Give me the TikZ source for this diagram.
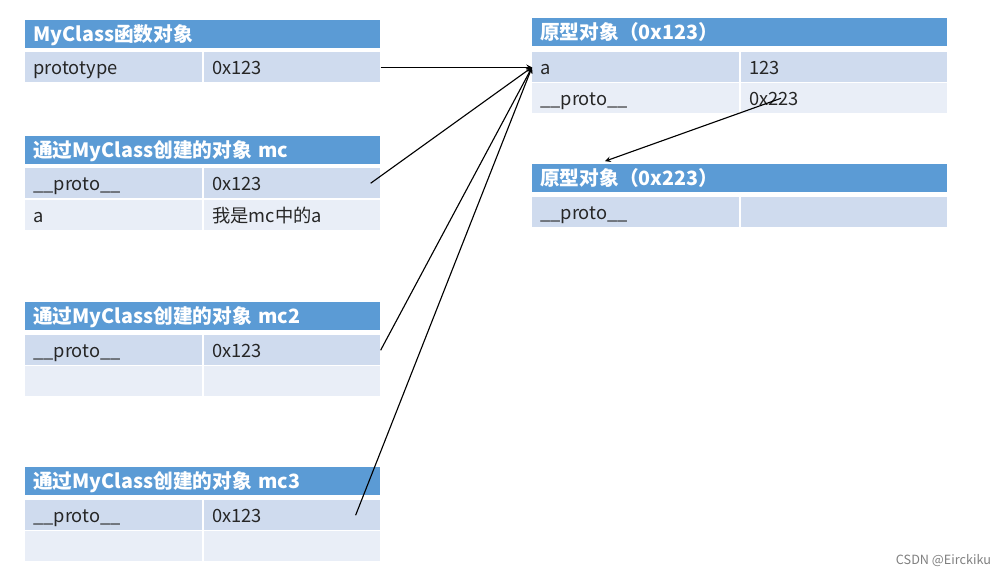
\documentclass[tikz,border=0pt]{standalone}
\usepackage{fontspec}
\setmainfont{Noto Sans CJK SC}
\usetikzlibrary{positioning}

\definecolor{hdrblue}{RGB}{91,155,213}
\definecolor{rowdark}{RGB}{207,219,238}
\definecolor{rowlight}{RGB}{233,238,247}

\tikzset{
    cell/.style={anchor=north west, inner xsep=0.2cm, inner ysep=0pt, align=left,
        text height=1.02em, text depth=0em,
        font=\fontsize{13}{15}\selectfont, text=black!85},
    hdr/.style={cell, fill=hdrblue, text=white, minimum height=0.7cm,
        font=\fontsize{14}{16}\selectfont\bfseries},
    dark/.style={cell, fill=rowdark, minimum height=0.75cm},
    light/.style={cell, fill=rowlight, minimum height=0.75cm},
    lhead/.style={text width=8.475cm},
    lkey/.style={text width=4.025cm},
    lval/.style={text width=4cm},
    rhead/.style={text width=9.975cm},
    rkey/.style={text width=4.775cm},
    rval/.style={text width=4.75cm},
    link/.style={->, line width=0.8pt, black},
}

\begin{document}
\begin{tikzpicture}[x=0.025cm, y=-0.025cm, >=stealth]
    \useasboundingbox[fill=white] (0,0) rectangle (1008,576);

    \node[hdr, lhead] (ctorHead) at (25,20) {MyClass函数对象};
    \node[dark, lkey] (ctorProtoKey) at (25,52) {prototype};
    \node[dark, lval] (ctorProtoVal) at (204,52) {0x123};

    \node[hdr, lhead] (mcHead) at (25,136) {通过MyClass创建的对象 mc};
    \node[dark, lkey] (mcProtoKey) at (25,168) {\_\_proto\_\_};
    \node[dark, lval] (mcProtoVal) at (204,168) {0x123};
    \node[light, lkey] (mcAKey) at (25,200) {a};
    \node[light, lval] (mcAVal) at (204,200) {我是mc中的a};

    \node[hdr, lhead] (mcTwoHead) at (25,302) {通过MyClass创建的对象 mc2};
    \node[dark, lkey] (mcTwoProtoKey) at (25,335) {\_\_proto\_\_};
    \node[dark, lval] (mcTwoProtoVal) at (204,335) {0x123};
    \node[light, lkey] (mcTwoEmptyKey) at (25,366) {};
    \node[light, lval] (mcTwoEmptyVal) at (204,366) {};

    \node[hdr, lhead] (mcThreeHead) at (25,467) {通过MyClass创建的对象 mc3};
    \node[dark, lkey] (mcThreeProtoKey) at (25,500) {\_\_proto\_\_};
    \node[dark, lval] (mcThreeProtoVal) at (204,500) {0x123};
    \node[light, lkey] (mcThreeEmptyKey) at (25,531) {};
    \node[light, lval] (mcThreeEmptyVal) at (204,531) {};

    \node[hdr, rhead] (protoOneHead) at (532,18) {原型对象（0x123）};
    \node[dark, rkey] (protoOneAKey) at (532,52) {a};
    \node[dark, rval] (protoOneAVal) at (741,52) {123};
    \node[light, rkey] (protoOneProtoKey) at (532,83) {\_\_proto\_\_};
    \node[light, rval] (protoOneProtoVal) at (741,83) {0x223};

    \node[hdr, rhead] (protoTwoHead) at (532,164) {原型对象（0x223）};
    \node[dark, rkey] (protoTwoProtoKey) at (532,197) {\_\_proto\_\_};
    \node[dark, rval] (protoTwoProtoVal) at (741,197) {};

    \draw[link] (ctorProtoVal.east) -- (protoOneAKey.west);
    \draw[link] ([xshift=-0.25cm]mcProtoVal.east) -- (protoOneAKey.west);
    \draw[link] (mcTwoProtoVal.east) -- (protoOneAKey.west);
    \draw[link] ([xshift=-0.625cm]mcThreeProtoVal.east) -- (protoOneAKey.west);
    \draw[link] ([xshift=1cm]protoOneProtoVal.west) -- ([xshift=1.825cm,yshift=2pt]protoTwoHead.north west);

    \node[anchor=east, font=\fontsize{9}{11}\selectfont, text=gray] (mark) at (996,561) {CSDN @Eirckiku};
\end{tikzpicture}
\end{document}
